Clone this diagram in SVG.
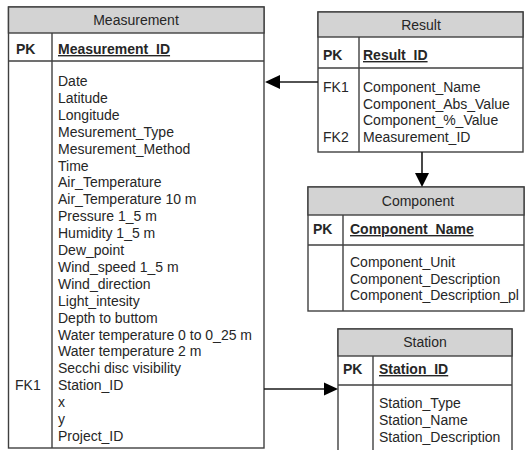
<svg xmlns="http://www.w3.org/2000/svg" width="525" height="450" viewBox="0 0 525 450">
  <style>
    .box { fill: #ffffff; stroke: #404040; stroke-width: 1.4; }
    .head { fill: #d3d3d3; stroke: #404040; stroke-width: 1.4; }
    .rule { stroke: #404040; stroke-width: 1.4; fill: none; }
    text { font-family: "Liberation Sans", Arial, sans-serif; font-size: 14px; fill: #262626; }
    .title { text-anchor: middle; }
    .key { font-weight: bold; }
    .pk { font-weight: bold; text-decoration: underline; }
    .conn { stroke: #1a1a1a; stroke-width: 1.6; fill: none; }
    .tip { fill: #000000; }
  </style>

  <!-- Measurement table -->
  <g id="measurement">
    <rect class="box" x="8.5" y="7" width="255.5" height="441"/>
    <rect class="head" x="8.5" y="7" width="255.5" height="26"/>
    <line class="rule" x1="8.5" y1="61" x2="264" y2="61"/>
    <line class="rule" x1="52" y1="33" x2="52" y2="448"/>
    <text class="title" x="136" y="25">Measurement</text>
    <text class="key" x="16" y="54">PK</text>
    <text class="pk" x="58" y="54">Measurement_ID</text>
    <text x="58" y="86">Date</text>
    <text x="58" y="102.9">Latitude</text>
    <text x="58" y="119.8">Longitude</text>
    <text x="58" y="136.7">Mesurement_Type</text>
    <text x="58" y="153.6">Mesurement_Method</text>
    <text x="58" y="170.5">Time</text>
    <text x="58" y="187.4">Air_Temperature</text>
    <text x="58" y="204.3">Air_Temperature 10 m</text>
    <text x="58" y="221.2">Pressure 1_5 m</text>
    <text x="58" y="238.1">Humidity 1_5 m</text>
    <text x="58" y="255">Dew_point</text>
    <text x="58" y="271.9">Wind_speed 1_5 m</text>
    <text x="58" y="288.8">Wind_direction</text>
    <text x="58" y="305.7">Light_intesity</text>
    <text x="58" y="322.6">Depth to buttom</text>
    <text x="58" y="339.5">Water temperature 0 to 0_25 m</text>
    <text x="58" y="356.4">Water temperature 2 m</text>
    <text x="58" y="373.3">Secchi disc visibility</text>
    <text x="15" y="390.2">FK1</text>
    <text x="58" y="390.2">Station_ID</text>
    <text x="58" y="407.1">x</text>
    <text x="58" y="424">y</text>
    <text x="58" y="440.9">Project_ID</text>
  </g>

  <!-- Result table -->
  <g id="result">
    <rect class="box" x="318" y="12" width="205" height="140"/>
    <rect class="head" x="318" y="12" width="205" height="25"/>
    <line class="rule" x1="318" y1="68" x2="523" y2="68"/>
    <line class="rule" x1="359" y1="37" x2="359" y2="152"/>
    <text class="title" x="421" y="30">Result</text>
    <text class="key" x="323" y="60">PK</text>
    <text class="pk" x="363" y="60">Result_ID</text>
    <text x="323" y="92">FK1</text>
    <text x="363" y="92">Component_Name</text>
    <text x="363" y="108.5">Component_Abs_Value</text>
    <text x="363" y="125">Component_%_Value</text>
    <text x="323" y="141.5">FK2</text>
    <text x="363" y="141.5">Measurement_ID</text>
  </g>

  <!-- Component table -->
  <g id="component">
    <rect class="box" x="308" y="187" width="216" height="124"/>
    <rect class="head" x="308" y="187" width="216" height="28"/>
    <line class="rule" x1="308" y1="245" x2="524" y2="245"/>
    <line class="rule" x1="343" y1="215" x2="343" y2="311"/>
    <text class="title" x="418" y="206">Component</text>
    <text class="key" x="313" y="234">PK</text>
    <text class="pk" x="350" y="234">Component_Name</text>
    <text x="350" y="267">Component_Unit</text>
    <text x="350" y="283.5">Component_Description</text>
    <text x="350" y="300">Component_Description_pl</text>
  </g>

  <!-- Station table -->
  <g id="station">
    <rect class="box" x="338" y="329" width="174" height="130"/>
    <rect class="head" x="338" y="329" width="174" height="27"/>
    <line class="rule" x1="338" y1="385" x2="512" y2="385"/>
    <line class="rule" x1="373" y1="356" x2="373" y2="459"/>
    <text class="title" x="425" y="347">Station</text>
    <text class="key" x="343" y="374">PK</text>
    <text class="pk" x="379" y="374">Station_ID</text>
    <text x="379" y="408">Station_Type</text>
    <text x="379" y="425">Station_Name</text>
    <text x="379" y="442">Station_Description</text>
  </g>

  <!-- Foreign key connectors -->
  <g id="connectors">
    <line class="conn" x1="318" y1="82" x2="279" y2="82"/>
    <polygon class="tip" points="265,82 280,75 280,89"/>
    <line class="conn" x1="422" y1="152" x2="422" y2="174"/>
    <polygon class="tip" points="422,187 415,173 429,173"/>
    <line class="conn" x1="264" y1="389" x2="325" y2="389"/>
    <polygon class="tip" points="338,389 324,382.5 324,395.5"/>
  </g>
</svg>
